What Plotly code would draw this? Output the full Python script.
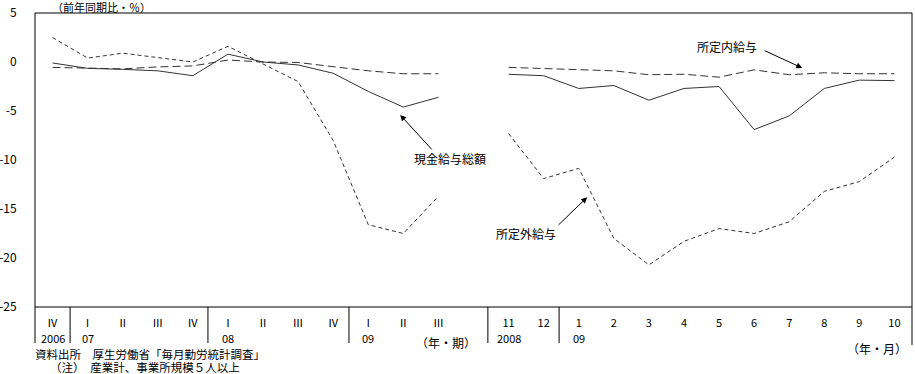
import plotly.graph_objects as go

# ---- data ----
quarter_labels = ["Ⅳ", "Ⅰ", "Ⅱ", "Ⅲ", "Ⅳ", "Ⅰ", "Ⅱ", "Ⅲ", "Ⅳ", "Ⅰ", "Ⅱ", "Ⅲ"]
quarter_years = {0: "2006", 1: "07", 5: "08", 9: "09"}
month_labels = ["11", "12", "1", "2", "3", "4", "5", "6", "7", "8", "9", "10"]
month_years = {0: "2008", 2: "09"}

total_q = [-0.1, -0.65, -0.75, -0.9, -1.4, 0.8, 0.0, -0.3, -1.15, -3.0, -4.6, -3.6]
sched_q = [-0.55, -0.6, -0.7, -0.5, -0.4, 0.2, 0.0, -0.05, -0.5, -0.9, -1.2, -1.2]
over_q = [2.5, 0.4, 0.9, 0.45, 0.0, 1.6, -0.2, -2.0, -8.0, -16.6, -17.5, -13.7]

total_m = [-1.25, -1.4, -2.7, -2.4, -3.9, -2.7, -2.5, -6.9, -5.5, -2.7, -1.85, -1.9]
sched_m = [-0.55, -0.65, -0.8, -0.9, -1.3, -1.25, -1.55, -0.8, -1.3, -1.1, -1.2, -1.2]
over_m = [-7.3, -11.9, -10.85, -18.0, -20.7, -18.3, -17.0, -17.5, -16.3, -13.2, -12.2, -9.7]

y_ticks = [5, 0, -5, -10, -15, -20, -25]

# ---- geometry ----
W, H = 915, 374
L, R, T, B = 35, 3, 13, 67
PW = W - L - R
PH = H - T - B

nq = len(quarter_labels)
gap = 1
xq = list(range(nq))
xm = [nq + gap + i for i in range(len(month_labels))]
x_all = xq + [nq] + xm


def join(a, b):
    return a + [None] + b


def px_x(p):
    return (p - L) / PW


def px_y(p):
    return (H - B - p) / PH


FONT = "Noto Sans CJK JP"
LINE = "#333333"
F12 = dict(size=12, family=FONT, color="black")
F11 = dict(size=11, family=FONT, color="black")
FFOOT = dict(size=11.5, family=FONT, color="black")

fig = go.Figure()
fig.add_trace(go.Scatter(x=x_all, y=join(total_q, total_m), mode="lines",
                         line=dict(color=LINE, width=1), connectgaps=False, name="現金給与総額"))
fig.add_trace(go.Scatter(x=x_all, y=join(sched_q, sched_m), mode="lines",
                         line=dict(color=LINE, width=1, dash="8px,4px"), connectgaps=False, name="所定内給与"))
fig.add_trace(go.Scatter(x=x_all, y=join(over_q, over_m), mode="lines",
                         line=dict(color=LINE, width=1, dash="4px,3px"), connectgaps=False, name="所定外給与"))

BL = dict(color="black", width=1)
shapes = [
    dict(type="line", xref="paper", yref="paper", x0=0, x1=1, y0=1, y1=1, line=BL),
    dict(type="line", xref="paper", yref="paper", x0=0, x1=1, y0=0, y1=0, line=BL),
    dict(type="line", xref="paper", yref="paper", x0=0, x1=0, y0=px_y(343), y1=1, line=BL),
    dict(type="line", xref="paper", yref="paper", x0=1, x1=1, y0=px_y(345), y1=1, line=BL),
]
for sx in [0.5, 4.43, 8.45, 12.41, 14.44]:
    shapes.append(dict(type="line", xref="x", yref="paper", x0=sx, x1=sx,
                       y0=px_y(343), y1=0, line=BL))

ann = []
for i, t in quarter_years.items():
    ann.append(dict(x=xq[i], y=px_y(338), xref="x", yref="paper", text=t, showarrow=False,
                    font=F11, xanchor="center", yanchor="middle"))
for i, t in month_years.items():
    ann.append(dict(x=xm[i], y=px_y(338), xref="x", yref="paper", text=t, showarrow=False,
                    font=F11, xanchor="center", yanchor="middle"))
ann.append(dict(x=px_x(478), y=px_y(342), xref="paper", yref="paper", text="（年・期）",
                showarrow=False, font=F12, xanchor="right", yanchor="middle"))
ann.append(dict(x=px_x(909), y=px_y(348), xref="paper", yref="paper", text="（年・月）",
                showarrow=False, font=F12, xanchor="right", yanchor="middle"))
ann.append(dict(x=px_x(50), y=px_y(7), xref="paper", yref="paper", text="（前年同期比・％）",
                showarrow=False, font=F11, xanchor="left", yanchor="middle"))
ann.append(dict(x=px_x(33), y=px_y(354), xref="paper", yref="paper",
                text="資料出所　厚生労働省「毎月勤労統計調査」", showarrow=False,
                font=FFOOT, xanchor="left", yanchor="middle"))
ann.append(dict(x=px_x(48), y=px_y(367), xref="paper", yref="paper",
                text="（注）　産業計、事業所規模５人以上", showarrow=False,
                font=FFOOT, xanchor="left", yanchor="middle"))

ann.append(dict(x=19.23, y=1.6, xref="x", yref="y", text="所定内給与", showarrow=False, font=F12))
ann.append(dict(x=11.33, y=-9.8, xref="x", yref="y", text="現金給与総額", showarrow=False, font=F12))
ann.append(dict(x=13.5, y=-17.55, xref="x", yref="y", text="所定外給与", showarrow=False, font=F12))

ARW = dict(showarrow=True, arrowhead=2, arrowsize=1.2, arrowwidth=1, arrowcolor="black", text="",
           xref="x", yref="y")
ann.append(dict(x=21.37, y=-0.61, ax=-39, ay=-18, **ARW))
ann.append(dict(x=9.91, y=-5.4, ax=33, ay=36, **ARW))
ann.append(dict(x=15.24, y=-13.8, ax=-30, ay=29, **ARW))

fig.update_layout(
    width=W, height=H, autosize=False,
    margin=dict(l=L, r=R, t=T, b=B, pad=0, autoexpand=False),
    paper_bgcolor="white", plot_bgcolor="white",
    showlegend=False,
    font=dict(family=FONT, size=12, color="black"),
    shapes=shapes, annotations=ann,
    xaxis=dict(range=[-0.5, 24.5], showgrid=False, zeroline=False, showline=False,
               tickmode="array", tickvals=xq + xm, ticktext=quarter_labels + month_labels,
               ticks="outside", ticklen=6, tickcolor="rgba(0,0,0,0)", tickfont=F11,
               automargin=False),
    yaxis=dict(range=[-25, 5], showgrid=False, zeroline=False, showline=False,
               tickmode="array", tickvals=y_ticks, ticktext=[str(v) for v in y_ticks],
               ticks="outside", ticklen=15, tickcolor="rgba(0,0,0,0)", tickfont=F12,
               automargin=False),
)

fig.write_html("out.html", config={"displayModeBar": False},
               post_script="document.body.style.margin='0';document.body.style.overflow='hidden';")
